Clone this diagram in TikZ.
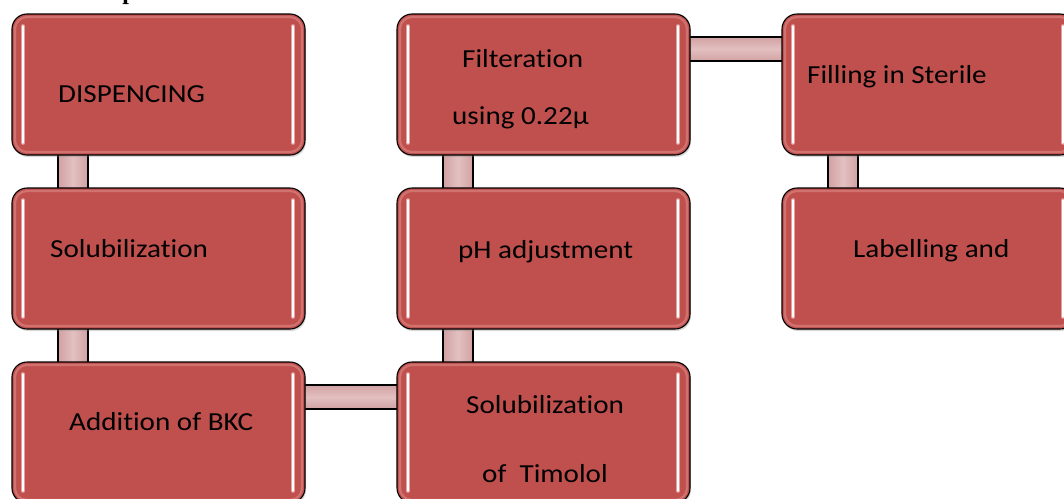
\documentclass[tikz,border=0pt]{standalone}
\usepackage{fontspec}
\setmainfont{Carlito}[FakeStretch=1.12, Ligatures=NoCommon]
\newfontfamily\titleserif{Liberation Serif}
\usetikzlibrary{calc,shadows}
\pgfdeclarelayer{background}
\pgfdeclarelayer{canvas}
\pgfsetlayers{canvas,background,main}
\definecolor{boxred}{HTML}{C0504D}
\definecolor{boxedge}{HTML}{D0726F}
\definecolor{barpink}{HTML}{E2C0C1}
\definecolor{barpinkdark}{HTML}{D2A1A2}
\definecolor{glow}{HTML}{E5A09F}
\tikzset{
  stepbox/.style={draw=black, line width=1.1pt, fill=boxred, rounded corners=15pt,
    minimum width=293pt, minimum height=141pt, anchor=north west, inner sep=0pt,
    outer sep=0pt, drop shadow={opacity=0.3, shadow xshift=1pt, shadow yshift=-2pt}},
  lbl/.style={font=\fontsize{26}{31}\selectfont, anchor=base west, inner sep=0pt},
  barline/.style={draw=black, line width=1.1pt},
  glowwide/.style={draw=glow, line width=3.6pt, line cap=round},
  glowthin/.style={draw=white, line width=1.2pt, line cap=round},
  bevel/.style={draw=boxedge, line width=2.2pt, rounded corners=12pt},
}
\newcommand\boxgloss[1]{%
  \draw[bevel] ($(#1.north west)+(3,3)$) rectangle ($(#1.south east)+(-3,-3)$);
  \draw[glowwide] ($(#1.north west)+(11,12)$) -- ($(#1.south west)+(11,-12)$);
  \draw[glowthin] ($(#1.north west)+(11,12)$) -- ($(#1.south west)+(11,-12)$);
  \draw[glowwide] ($(#1.north east)+(-12,12)$) -- ($(#1.south east)+(-12,-12)$);
  \draw[glowthin] ($(#1.north east)+(-12,12)$) -- ($(#1.south east)+(-12,-12)$);
}
\newcommand\vbarlink[2]{%
  \begin{pgfonlayer}{background}
  \path[left color=barpinkdark, right color=barpinkdark, middle color=barpink]
    ($(#1.south west)+(46,0)$) rectangle ($(#2.north west)+(76,0)$);
  \draw[barline] ($(#1.south west)+(46,0)$) -- ($(#2.north west)+(46,0)$)
                 ($(#1.south west)+(76,0)$) -- ($(#2.north west)+(76,0)$);
  \end{pgfonlayer}
}
\newcommand\hbarlink[2]{%
  \begin{pgfonlayer}{background}
  \path[top color=barpinkdark, bottom color=barpinkdark, middle color=barpink]
    ($(#1.north east)+(0,23)$) rectangle ($(#2.north west)+(0,47)$);
  \draw[barline] ($(#1.north east)+(0,23)$) -- ($(#2.north west)+(0,23)$)
                 ($(#1.north east)+(0,47)$) -- ($(#2.north west)+(0,47)$);
  \end{pgfonlayer}
}
\begin{document}
\begin{tikzpicture}[x=1pt,y=-1pt]
\clip (0,0) rectangle (1064,498);
\begin{pgfonlayer}{canvas}
\fill[white] (0,0) rectangle (1064,498);
\end{pgfonlayer}
\node[font=\titleserif\bfseries\fontsize{24}{28}\selectfont, anchor=base, inner sep=0pt] (title) at (129,-1) {p};

\node[stepbox] (b1) at (12,14) {};
\node[stepbox] (b2) at (12,188) {};
\node[stepbox] (b3) at (12,362) {};
\node[stepbox] (b4) at (397,14) {};
\node[stepbox] (b5) at (397,188) {};
\node[stepbox] (b6) at (397,362) {};
\node[stepbox] (b7) at (782,14) {};
\node[stepbox] (b8) at (782,188) {};

\boxgloss{b1}\boxgloss{b2}\boxgloss{b3}\boxgloss{b4}
\boxgloss{b5}\boxgloss{b6}\boxgloss{b7}\boxgloss{b8}

\vbarlink{b1}{b2}
\vbarlink{b2}{b3}
\hbarlink{b3}{b6}
\vbarlink{b5}{b6}
\vbarlink{b4}{b5}
\hbarlink{b4}{b7}
\vbarlink{b7}{b8}

\node[lbl] (t1) at ($(b1.north west)+(46,88)$) {DISPENCING};
\node[lbl] (t2) at ($(b2.north west)+(38,69)$) {Solubilization};
\node[lbl] (t3) at ($(b3.north west)+(57,68)$) {Addition of BKC};
\node[lbl] (t4a) at ($(b4.north west)+(65,53)$) {Filteration};
\node[lbl] (t4b) at ($(b4.north west)+(55,110)$) {using 0.22µ};
\node[lbl] (t5) at ($(b5.north west)+(61,70)$) {pH adjustment};
\node[lbl] (t6a) at ($(b6.north west)+(69,51)$) {Solubilization};
\node[lbl] (t6b) at ($(b6.north west)+(85,120)$) {of\ \ Timolol};
\node[lbl] (t7) at ($(b7.north west)+(25,69)$) {Filling in Sterile};
\node[lbl] (t8) at ($(b8.north west)+(71,69)$) {Labelling and};
\end{tikzpicture}
\end{document}
